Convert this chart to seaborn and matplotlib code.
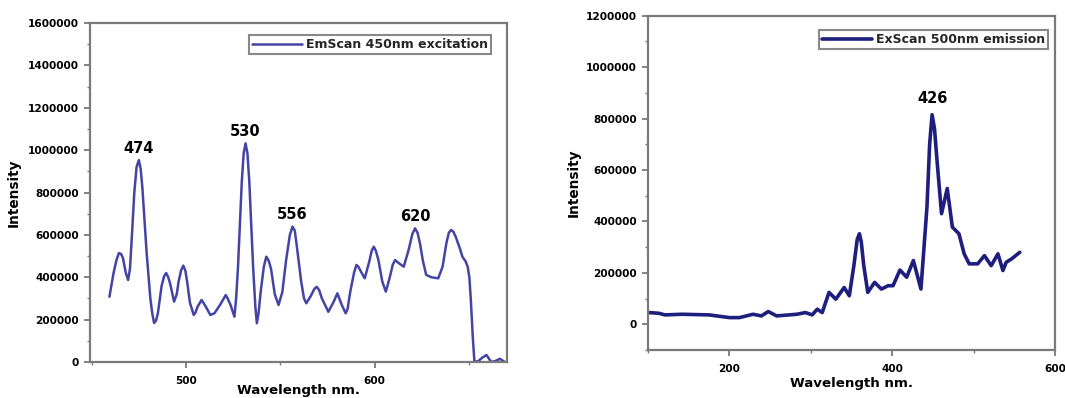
import numpy as np
import pandas as pd
import matplotlib
matplotlib.use("Agg")
import matplotlib.pyplot as plt
from matplotlib.ticker import MultipleLocator, StrMethodFormatter
import seaborn as sns

# ---------------- data ----------------
em_wavelength = [459.3, 460.3, 461.5, 463.0, 464.3, 465.5, 466.5, 468.0, 469.2, 470.2,
                 471.0, 472.5, 473.7, 474.9, 475.9, 476.8, 479.0, 481.0, 482.0, 483.0,
                 484.0, 485.0, 487.0, 488.3, 489.4, 490.5, 491.5, 493.6, 495.0, 496.0,
                 497.4, 498.5, 499.6, 500.5, 502.0, 504.0, 505.0, 506.0, 508.2, 510.5,
                 512.8, 515.0, 518.0, 520.0, 521.0, 522.0, 523.5, 525.6, 526.5, 527.5,
                 529.5, 530.5, 531.5, 532.5, 533.5, 535.5, 536.7, 537.5, 538.4, 539.5,
                 541.2, 542.5, 543.7, 545.0, 547.0, 549.0, 551.0, 553.0, 555.0, 556.4,
                 557.6, 558.5, 561.0, 562.5, 563.7, 566.0, 568.0, 569.2, 570.5, 572.0,
                 575.4, 578.0, 580.2, 582.5, 584.6, 585.6, 587.0, 589.0, 590.3, 591.3,
                 592.5, 594.7, 597.0, 598.4, 599.5, 600.6, 602.0, 604.0, 605.9, 608.0,
                 609.6, 610.8, 613.0, 615.4, 618.0, 620.0, 621.4, 622.7, 624.0, 625.5,
                 627.3, 630.0, 633.7, 636.0, 638.0, 639.3, 640.5, 641.7, 643.0, 645.0,
                 646.5, 648.2, 649.3, 650.2, 651.0, 652.0, 652.9, 655.0, 657.0, 659.3,
                 661.0, 662.0, 664.0, 666.4, 669.0]
em_intensity = [308, 360, 420, 480, 514, 510, 490, 420, 387, 440,
                560, 800, 920, 953, 910, 820, 520, 300, 230, 184,
                195, 230, 360, 405, 420, 400, 370, 285, 320, 380,
                435, 455, 430, 380, 280, 222, 235, 260, 293, 260,
                222, 230, 270, 300, 316, 300, 270, 214, 300, 450,
                850, 985, 1032, 985, 850, 450, 260, 183, 230, 330,
                450, 497, 480, 440, 320, 269, 330, 480, 600, 639,
                620, 560, 380, 300, 277, 310, 345, 355, 340, 300,
                237, 280, 324, 270, 230, 250, 330, 420, 458, 450,
                430, 395, 470, 525, 544, 525, 480, 380, 332, 400,
                460, 481, 465, 450, 530, 605, 631, 610, 560, 480,
                411, 400, 395, 450, 560, 610, 623, 615, 590, 540,
                497, 475, 450, 400, 290, 120, 0, 5, 20, 33,
                10, 0, 5, 15, 0]
em_intensity = [v * 1000 for v in em_intensity]

ex_wavelength = [100.4, 112.9, 121.0, 142.0, 175.0, 200.0, 212.4, 229.0, 239.4, 247.7,
                 258.0, 283.0, 293.4, 301.7, 307.9, 314.0, 322.4, 330.7, 341.0, 347.3,
                 353.0, 357.0, 359.75, 362.0, 365.0, 370.0, 378.4, 386.7, 395.0, 401.0,
                 409.5, 417.8, 426.0, 435.3, 442.7, 446.0, 449.0, 452.0, 455.0, 460.6,
                 467.6, 473.9, 482.0, 488.4, 494.6, 505.0, 513.3, 521.6, 529.9, 536.0,
                 540.0, 546.5, 556.8]
ex_intensity = [45.6, 43, 36.5, 39, 36.5, 26, 26, 39, 32.6, 49.6,
                32.6, 39, 45.6, 36.5, 58.7, 45.6, 124, 97.8, 143, 111,
                230, 330, 352, 320, 230, 124, 163, 137, 150, 150,
                211, 183, 248, 137, 456, 700, 815, 760, 639, 430,
                528, 378, 352, 274, 235, 235, 267, 228, 274, 209,
                241, 254, 280]
ex_intensity = [v * 1000 for v in ex_intensity]

em_peak_labels = ["474", "530", "556", "620"]
em_peak_near = [474.9, 531.5, 556.4, 621.4]
ex_peak_labels = ["426"]
ex_peak_near = [449.0]

em_label = "EmScan 450nm excitation"
ex_label = "ExScan 500nm emission"
x_title = "Wavelength nm."
y_title = "Intensity"

em_df = pd.DataFrame({"wl": em_wavelength, "I": em_intensity})
ex_df = pd.DataFrame({"wl": ex_wavelength, "I": ex_intensity})

# ---------------- style ----------------
sns.set_theme(style="ticks")
plt.rcParams["font.family"] = ["DejaVu Sans"]
plt.rcParams["font.weight"] = "bold"

fig = plt.figure(figsize=(10.65, 3.98), dpi=100)
ax1 = fig.add_axes([90 / 1065, 1 - 362 / 398, (506.7 - 90) / 1065, (362 - 23) / 398])
ax2 = fig.add_axes([648 / 1065, 1 - 350 / 398, (1055 - 648) / 1065, (350 - 15.7) / 398])

spine_col = "#7a7a7a"

sns.lineplot(data=em_df, x="wl", y="I", ax=ax1, color="#4444a4", linewidth=1.8,
             label=em_label, sort=False, solid_joinstyle="round")
sns.lineplot(data=ex_df, x="wl", y="I", ax=ax2, color="#1e1e7e", linewidth=2.6,
             label=ex_label, sort=False, solid_joinstyle="round")

ax1.set_xlim(449, 670)
ax1.set_ylim(0, 1600000)
ax1.set_xticks([500, 600])
ax1.xaxis.set_minor_locator(MultipleLocator(50))
ax1.yaxis.set_major_locator(MultipleLocator(200000))
ax1.yaxis.set_minor_locator(MultipleLocator(100000))

ax2.set_xlim(100, 600)
ax2.set_ylim(-100000, 1200000)
ax2.set_xticks([200, 400, 600])
ax2.xaxis.set_minor_locator(MultipleLocator(100))
ax2.yaxis.set_major_locator(MultipleLocator(200000))
ax2.yaxis.set_minor_locator(MultipleLocator(100000))

for ax, ylc, xlc in [(ax1, (-0.182, 0.5), (0.5, -0.083)),
                     (ax2, (-0.182, 0.5), (0.5, -0.099))]:
    for s in ax.spines.values():
        s.set_color(spine_col)
        s.set_linewidth(1.6)
        s.set_visible(True)
    ax.yaxis.set_major_formatter(StrMethodFormatter("{x:.0f}"))
    ax.xaxis.set_major_formatter(StrMethodFormatter("{x:.0f}"))
    ax.tick_params(which="major", direction="out", length=4, width=1.3,
                   color=spine_col, labelsize=7.6, labelcolor="black", pad=4)
    ax.tick_params(which="minor", direction="out", length=2.5, width=1.0, color=spine_col)
    ax.tick_params(axis="x", which="major", pad=6)
    for lab in ax.get_xticklabels() + ax.get_yticklabels():
        lab.set_fontweight("bold")
    ax.set_xlabel(x_title, fontsize=9.6, fontweight="bold", color="black")
    ax.set_ylabel(y_title, fontsize=9.8, fontweight="bold", color="black")
    ax.xaxis.label.set_va("center")
    ax.yaxis.label.set_va("center")
    ax.xaxis.set_label_coords(*xlc)
    ax.yaxis.set_label_coords(*ylc)


def annotate_peaks(ax, wl, inten, labels, near, offset):
    wl = np.asarray(wl)
    inten = np.asarray(inten)
    for lab, n in zip(labels, near):
        m = np.abs(wl - n) <= 3
        idx = np.flatnonzero(m)[np.argmax(inten[m])]
        ax.annotate(lab, (wl[idx], inten[idx]), xytext=(0, offset),
                    textcoords="offset points", ha="center", va="bottom",
                    fontsize=10.5, fontweight="bold", color="black")


annotate_peaks(ax1, em_wavelength, em_intensity, em_peak_labels, em_peak_near, 3)
annotate_peaks(ax2, ex_wavelength, ex_intensity, ex_peak_labels, ex_peak_near, 6)

for ax, anchor in [(ax1, (0.962, 0.965)), (ax2, (0.983, 0.957))]:
    leg = ax.legend(loc="upper right", bbox_to_anchor=anchor, frameon=True,
                    fancybox=False, fontsize=9, handlelength=4.0, handletextpad=0.3,
                    borderpad=0.25, borderaxespad=0)
    leg.get_frame().set_edgecolor("#6a6a6a")
    leg.get_frame().set_linewidth(1.5)
    for t in leg.get_texts():
        t.set_fontweight("bold")

fig.savefig("out.png", dpi=100)
